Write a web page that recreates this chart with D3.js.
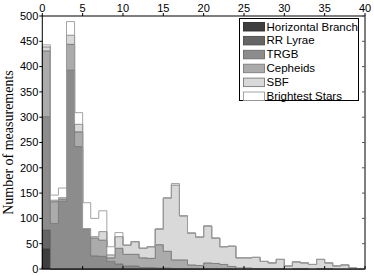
<!DOCTYPE html>
<html>
<head>
<meta charset="utf-8">
<script src="https://cdn.jsdelivr.net/npm/d3@7"></script>
<style>
  html, body { margin: 0; padding: 0; background: #fff; }
  svg { display: block; }
</style>
</head>
<body>
<svg id="chart" width="374" height="276"></svg>
<script>
// bin edges 0..40, width 1
var binStarts = d3.range(0, 40);

var categories = ['Horizontal Branch', 'RR Lyrae', 'TRGB', 'Cepheids', 'SBF', 'Brightest Stars'];

var horizontalBranch = [40, 0, 0, 0, 0, 0, 0, 0, 0, 0, 0, 0, 0, 0, 0, 0, 0, 0, 0, 0,
  0, 0, 0, 0, 0, 0, 0, 0, 0, 0, 0, 0, 0, 0, 0, 0, 0, 0, 0, 0];
var rrLyrae = [37, 0, 0, 0, 0, 0, 0, 0, 0, 0, 0, 0, 0, 0, 0, 0, 0, 0, 0, 0,
  0, 0, 0, 0, 0, 0, 0, 0, 0, 0, 0, 0, 0, 0, 0, 0, 0, 0, 0, 0];
var trgb = [224, 90, 134, 393, 242, 80, 26, 25, 15, 10, 6, 6, 3, 3, 2, 2, 1, 1, 1, 1,
  1, 1, 1, 1, 0, 0, 0, 0, 0, 0, 0, 0, 0, 0, 0, 0, 0, 0, 0, 0];
var cepheids = [130, 43, 4, 51, 29, 0, 35, 32, 7, 31, 23, 23, 19, 18, 46, 33, 17, 17, 7, 6,
  11, 10, 8, 4, 2, 2, 1, 1, 1, 1, 0, 1, 1, 0, 1, 1, 0, 0, 0, 0];
var sbf = [8, 3, 3, 18, 15, 0, 3, 17, 6, 23, 18, 25, 19, 23, 31, 105, 148, 87, 63, 56,
  73, 50, 35, 40, 20, 20, 22, 14, 11, 18, 6, 13, 11, 9, 18, 11, 6, 8, 2, 1];
var brightestStars = [4, 10, 19, 27, 23, 51, 36, 41, 16, 8, 0, 0, 0, 0, 0, 1, 3, 0, 0, 0,
  0, 0, 0, 0, 0, 0, 0, 0, 0, 0, 0, 0, 0, 0, 0, 0, 0, 0, 0, 0];

var xTicks = [0, 5, 10, 15, 20, 25, 30, 35, 40];
var yTicks = [0, 50, 100, 150, 200, 250, 300, 350, 400, 450, 500];

var fills = ['#3e3e3e', '#656565', '#8c8c8c', '#ababab', '#d9d9d9', '#ffffff'];
var strokes = ['#2b2b2b', '#4a4a4a', '#6a6a6a', '#7e7e7e', '#7a7a7a', '#9a9a9a'];

(function () {
  var svg = d3.select('#chart');
  var left = 42.3, right = 365, top = 16, bottom = 269;

  var x = d3.scaleLinear().domain([0, 40]).range([left, right]);
  var y = d3.scaleLinear().domain([0, 500]).range([bottom, top]);

  var series = [horizontalBranch, rrLyrae, trgb, cepheids, sbf, brightestStars];

  // cumulative stacks
  var cum = binStarts.map(function () { return 0; });
  var layers = series.map(function (vals) {
    var pts = binStarts.map(function (b, i) {
      var y0 = cum[i];
      var y1 = cum[i] + vals[i];
      cum[i] = y1;
      return { x: b, y0: y0, y1: y1 };
    });
    var last = pts[pts.length - 1];
    pts.push({ x: 40, y0: last.y0, y1: last.y1 });
    return pts;
  });

  var area = d3.area()
    .x(function (d) { return x(d.x); })
    .y0(function (d) { return y(d.y0); })
    .y1(function (d) { return y(d.y1); })
    .curve(d3.curveStepAfter);

  var g = svg.append('g');
  layers.forEach(function (pts, k) {
    g.append('path')
      .attr('d', area(pts))
      .attr('fill', fills[k])
      .attr('stroke', strokes[k])
      .attr('stroke-width', 0.9);
  });

  // axes box
  svg.append('rect')
    .attr('x', left).attr('y', top)
    .attr('width', right - left).attr('height', bottom - top)
    .attr('fill', 'none')
    .attr('stroke', '#000')
    .attr('stroke-width', 1);

  var tickFont = 'Liberation Sans, Arial, sans-serif';

  // top axis, ticks outward
  xTicks.forEach(function (t) {
    svg.append('line')
      .attr('x1', x(t)).attr('x2', x(t))
      .attr('y1', top).attr('y2', top - 3)
      .attr('stroke', '#000');
    svg.append('line')
      .attr('x1', x(t)).attr('x2', x(t))
      .attr('y1', bottom).attr('y2', bottom - 3)
      .attr('stroke', '#000');
    svg.append('text')
      .attr('x', x(t))
      .attr('y', top - 4)
      .attr('text-anchor', 'middle')
      .attr('font-family', tickFont)
      .attr('font-size', '11px')
      .text(t);
  });

  // left axis ticks outward, right axis ticks inward
  yTicks.forEach(function (t) {
    svg.append('line')
      .attr('x1', left).attr('x2', left - 3)
      .attr('y1', y(t)).attr('y2', y(t))
      .attr('stroke', '#000');
    svg.append('line')
      .attr('x1', right).attr('x2', right - 3)
      .attr('y1', y(t)).attr('y2', y(t))
      .attr('stroke', '#555');
    svg.append('text')
      .attr('x', left - 4)
      .attr('y', y(t))
      .attr('dy', '0.35em')
      .attr('text-anchor', 'end')
      .attr('font-family', tickFont)
      .attr('font-size', '11px')
      .text(t);
  });

  svg.append('text')
    .attr('transform', 'translate(13,' + ((top + bottom) / 2) + ') rotate(-90)')
    .attr('text-anchor', 'middle')
    .attr('font-family', 'Liberation Serif, Times New Roman, serif')
    .attr('font-size', '14px')
    .text('Number of measurements');

  // legend
  var lg = svg.append('g').attr('transform', 'translate(239.5,18.5)');
  lg.append('rect')
    .attr('width', 119).attr('height', 82)
    .attr('fill', '#fff')
    .attr('stroke', '#000')
    .attr('stroke-width', 1);

  categories.forEach(function (name, k) {
    var cy = 8 + k * 13.9;
    lg.append('rect')
      .attr('x', 4).attr('y', cy - 4)
      .attr('width', 21).attr('height', 8.5)
      .attr('fill', fills[k])
      .attr('stroke', strokes[k])
      .attr('stroke-width', 0.9);
    lg.append('text')
      .attr('x', 27)
      .attr('y', cy)
      .attr('dy', '0.35em')
      .attr('font-family', tickFont)
      .attr('font-size', '11.5px')
      .text(name);
  });
})();
</script>
</body>
</html>
